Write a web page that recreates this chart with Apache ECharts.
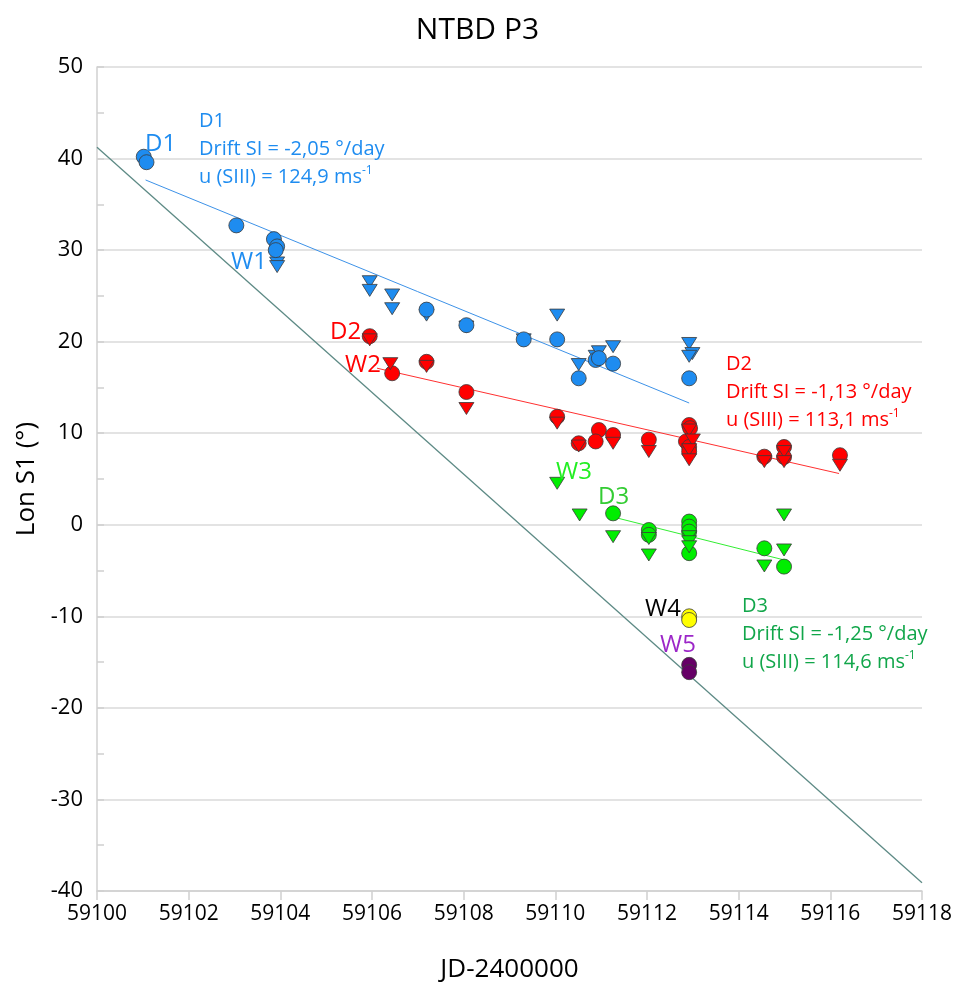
<!DOCTYPE html>
<html>
<head>
<meta charset="utf-8">
<script src="https://cdn.jsdelivr.net/npm/echarts@6/dist/echarts.min.js"></script>
<style>
  html, body { margin: 0; padding: 0; background: #ffffff; }
  #chart { width: 955px; height: 983px; }
</style>
</head>
<body>
<div id="chart"></div>
<script>
// Longitude of NTBD P3 features vs. Julian date (JD-2400000)

// D1 / W1 (blue)
const blueCircles = [
  [59101.02, 40.2], [59101.08, 39.6], [59103.04, 32.7], [59103.86, 31.2],
  [59103.93, 30.4], [59103.90, 30.0], [59107.19, 23.5], [59108.06, 21.8],
  [59109.31, 20.25], [59110.04, 20.25], [59110.51, 16.0], [59110.88, 18.0],
  [59110.95, 18.2], [59111.26, 17.6], [59112.92, 16.0]
];
const blueTriangles = [
  [59103.93, 28.6], [59103.93, 28.2], [59105.95, 26.55], [59105.95, 25.6],
  [59106.44, 25.1], [59106.44, 23.6], [59107.19, 22.9], [59108.06, 21.6],
  [59109.31, 20.2], [59110.04, 22.9], [59110.51, 17.5], [59110.88, 18.4],
  [59110.95, 18.9], [59111.26, 19.45], [59112.92, 19.8], [59112.99, 18.7],
  [59112.92, 18.4]
];
// D2 / W2 (red)
const redCircles = [
  [59105.95, 20.6], [59106.44, 16.55], [59107.19, 17.8], [59108.06, 14.5],
  [59110.04, 11.8], [59110.51, 8.9], [59110.95, 10.35], [59110.88, 9.1],
  [59111.26, 9.8], [59112.04, 9.3], [59112.92, 10.9], [59112.94, 10.55],
  [59112.85, 9.1], [59112.92, 8.5], [59112.92, 8.0], [59114.56, 7.44],
  [59114.99, 8.5], [59114.99, 7.4], [59116.21, 7.6]
];
const redTriangles = [
  [59105.95, 20.2], [59106.40, 17.6], [59107.19, 17.3], [59108.06, 12.7],
  [59110.04, 11.1], [59110.51, 8.6], [59111.26, 8.9], [59112.04, 8.0],
  [59112.92, 10.35], [59113.00, 9.26], [59112.92, 8.2], [59112.92, 7.1],
  [59114.56, 6.9], [59114.99, 8.0], [59114.99, 6.9], [59116.21, 6.5]
];
// D3 / W3 (green)
const greenCircles = [
  [59111.26, 1.25], [59112.04, -0.57], [59112.04, -1.1], [59112.92, 0.35],
  [59112.92, -0.2], [59112.92, -0.75], [59112.92, -3.1], [59114.56, -2.57],
  [59114.99, -4.57]
];
const greenTriangles = [
  [59110.04, 4.53], [59110.53, 1.07], [59111.26, -1.3], [59112.04, -1.5],
  [59112.04, -3.3], [59112.92, -1.3], [59112.92, -1.85], [59112.92, -2.4],
  [59114.56, -4.5], [59114.99, 1.07], [59114.99, -2.75]
];
// W4 (yellow) and W5 (purple)
const w4Points = [[59112.92, -10.0], [59112.92, -10.4]];
const w5Points = [[59112.92, -15.3], [59112.92, -16.1]];

// Linear drift fits (end points)
const d1Fit = [[59101.06, 37.66], [59112.92, 13.3]];
const d2Fit = [[59106.11, 17.1], [59116.19, 5.6]];
const d3Fit = [[59111.26, 0.85], [59114.99, -3.84]];
const refLine = [[59100, 41.23], [59118, -39.1]];

const xTicks = { min: 59100, max: 59118, step: 2 };
const yTicks = { min: -40, max: 50, step: 10, minorStep: 5 };

const FONT = '"Open Sans", "Noto Sans", sans-serif';
const BLUE = '#1e8cf0';
const RED = '#ff0000';
const GREEN = '#00ee00';
const EDGE = '#3a3a3a';

function circles(data, color, z) {
  return {
    type: 'scatter', data: data, symbol: 'circle', symbolSize: 15, z: z || 3,
    itemStyle: { color: color, borderColor: EDGE, borderWidth: 0.8, opacity: 1 }
  };
}
function triangles(data, color, z) {
  return {
    type: 'scatter', data: data, symbol: 'triangle', symbolRotate: 180,
    symbolSize: [15, 12], z: z || 3,
    itemStyle: { color: color, borderColor: EDGE, borderWidth: 0.8, opacity: 1 }
  };
}
function fitLine(data, color, width) {
  return {
    type: 'line', data: data, symbol: 'none', z: 2, silent: true,
    lineStyle: { color: color, width: width || 1 }
  };
}

const chart = echarts.init(document.getElementById('chart'), null, { renderer: 'canvas' });

function annot(x, y, text, color) {
  return {
    type: 'text', left: x, top: y, z: 10,
    style: { text: text, fill: color, font: '24px ' + FONT }
  };
}
function driftBlock(x, y, name, drift, speed, color) {
  return {
    type: 'text', left: x, top: y, z: 10,
    style: {
      text: '{a|' + name + '}\n{a|Drift SI = ' + drift + ' °/day}\n{a|u (SIII) = ' + speed + ' ms}{s|-1}',
      fill: color,
      rich: {
        a: { fontFamily: FONT, fontSize: 20, lineHeight: 28, fill: color },
        s: { fontFamily: FONT, fontSize: 12, lineHeight: 28, verticalAlign: 'top', padding: [2, 0, 0, 0], fill: color }
      }
    }
  };
}

chart.setOption({
  animation: false,
  backgroundColor: '#ffffff',
  title: {
    text: 'NTBD P3', left: 'center', top: 10,
    textStyle: { fontFamily: FONT, fontSize: 30, fontWeight: 'normal', color: '#000' }
  },
  grid: { left: 97, right: 33, top: 67, bottom: 92, containLabel: false, outerBoundsMode: 'none' },
  xAxis: {
    type: 'value', min: xTicks.min, max: xTicks.max, interval: xTicks.step,
    name: 'JD-2400000', nameLocation: 'middle', nameGap: 66,
    nameTextStyle: { fontFamily: FONT, fontSize: 26, color: '#000' },
    axisLine: { show: true, onZero: false, lineStyle: { color: '#d0d0d0', width: 1.5 } },
    axisTick: { show: true, length: 9, lineStyle: { color: '#d0d0d0', width: 1.5 } },
    axisLabel: { margin: 13, fontFamily: FONT, fontSize: 21, color: '#000',
      formatter: function (v) { return String(v); } },
    splitLine: { show: false }
  },
  yAxis: [{
    type: 'value', min: yTicks.min, max: yTicks.max, interval: yTicks.step,
    name: 'Lon S1 (°)', nameLocation: 'middle', nameGap: 57, nameRotate: 90,
    nameTextStyle: { fontFamily: FONT, fontSize: 26, color: '#000' },
    axisLine: { show: true, onZero: false, lineStyle: { color: '#d0d0d0', width: 1.5 } },
    axisTick: { show: false },
    axisLabel: { margin: 14, fontFamily: FONT, fontSize: 22, color: '#000' },
    splitLine: { show: true, lineStyle: { color: '#dadada', width: 1.5 } }
  }, {
    // minor tick marks every 5 degrees, pointing into the plot
    type: 'value', min: yTicks.min, max: yTicks.max, interval: yTicks.minorStep,
    position: 'left',
    axisLine: { show: false },
    axisTick: { show: true, inside: true, length: 7, lineStyle: { color: '#d0d0d0', width: 1.5 } },
    axisLabel: { show: false },
    splitLine: { show: false }
  }],
  series: [
    fitLine(refLine, '#5d8a85', 1.3),
    fitLine(d1Fit, '#3d92e8', 1),
    fitLine(d2Fit, '#ff3030', 1),
    fitLine(d3Fit, '#33ee33', 1),
    triangles(blueTriangles, BLUE),
    circles(blueCircles, BLUE),
    circles(redCircles, RED),
    triangles(redTriangles, RED, 4),
    circles(greenCircles, GREEN),
    triangles(greenTriangles, GREEN, 4),
    circles(w4Points, '#ffff00'),
    circles(w5Points, '#660066')
  ],
  graphic: [
    annot(145, 132, 'D1', BLUE),
    annot(231, 250, 'W1', BLUE),
    annot(330, 320, 'D2', RED),
    annot(345, 353, 'W2', RED),
    annot(556, 460, 'W3', '#22ee22'),
    annot(598, 485, 'D3', '#33cc33'),
    annot(645, 597, 'W4', '#000000'),
    annot(660, 633, 'W5', '#9c27c8'),
    driftBlock(199, 111, 'D1', '-2,05', '124,9', BLUE),
    driftBlock(726, 354, 'D2', '-1,13', '113,1', RED),
    driftBlock(742, 596, 'D3', '-1,25', '114,6', '#11a64a')
  ]
});
</script>
</body>
</html>
